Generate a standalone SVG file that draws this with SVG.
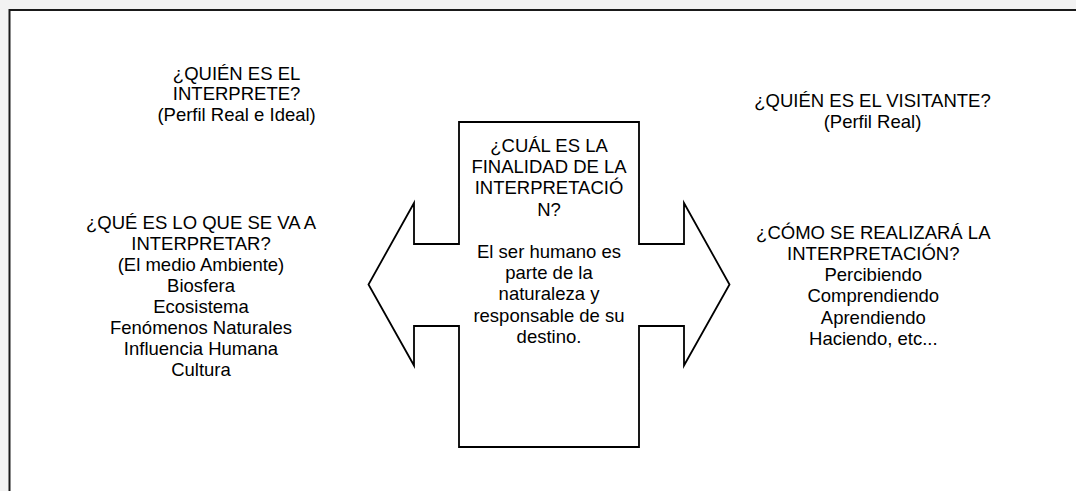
<svg xmlns="http://www.w3.org/2000/svg" width="1076" height="491" viewBox="0 0 1076 491">
<style>
.t{font-family:"Liberation Sans",Arial,sans-serif;font-size:18.5px;fill:#000;text-anchor:middle}
.shape{fill:#fff;stroke:#000;stroke-width:1.8;stroke-linejoin:miter}
</style>
<rect x="0" y="0" width="1076" height="491" fill="#f2f2f2"/>
<rect x="9.5" y="10" width="1080" height="500" fill="#fff" stroke="#1a1a1a" stroke-width="2"/>
<g id="connectors"></g>
<g id="cross-arrow">
<polygon class="shape" points="459,122 639,122 639,244 684,244 684,203 729.5,284.5 684,365.5 684,326 639,326 639,447 459,447 459,326 414,326 414,365.5 368.5,284.5 414,203 414,244 459,244"/>
<text class="t"><tspan x="549" y="152">¿CUÁL ES LA</tspan><tspan x="549" y="173.2">FINALIDAD DE LA</tspan><tspan x="549" y="194.4">INTERPRETACIÓ</tspan><tspan x="549" y="215.6">N?</tspan><tspan x="549" y="258">El ser humano es</tspan><tspan x="549" y="279.2">parte de la</tspan><tspan x="549" y="300.4">naturaleza y</tspan><tspan x="549" y="321.6">responsable de su</tspan><tspan x="549" y="342.8">destino.</tspan></text>
</g>
<g id="interprete">
<text class="t"><tspan x="236.6" y="79.5">¿QUIÉN ES EL</tspan><tspan x="236.6" y="100.3">INTERPRETE?</tspan><tspan x="236.6" y="121">(Perfil Real e Ideal)</tspan></text>
</g>
<g id="visitante">
<text class="t"><tspan x="872.5" y="106.5">¿QUIÉN ES EL VISITANTE?</tspan><tspan x="872.5" y="127.5">(Perfil Real)</tspan></text>
</g>
<g id="que-interpretar">
<text class="t"><tspan x="201" y="229.3">¿QUÉ ES LO QUE SE VA A</tspan><tspan x="201" y="250.3">INTERPRETAR?</tspan><tspan x="201" y="271.3">(El medio Ambiente)</tspan><tspan x="201" y="292.3">Biosfera</tspan><tspan x="201" y="313.3">Ecosistema</tspan><tspan x="201" y="334.3">Fenómenos Naturales</tspan><tspan x="201" y="355.3">Influencia Humana</tspan><tspan x="201" y="376.3">Cultura</tspan></text>
</g>
<g id="como-realizara">
<text class="t"><tspan x="873.3" y="238.5">¿CÓMO SE REALIZARÁ LA</tspan><tspan x="873.3" y="259.8">INTERPRETACIÓN?</tspan><tspan x="873.3" y="281.1">Percibiendo</tspan><tspan x="873.3" y="302.4">Comprendiendo</tspan><tspan x="873.3" y="323.7">Aprendiendo</tspan><tspan x="873.3" y="345">Haciendo, etc...</tspan></text>
</g>
</svg>
